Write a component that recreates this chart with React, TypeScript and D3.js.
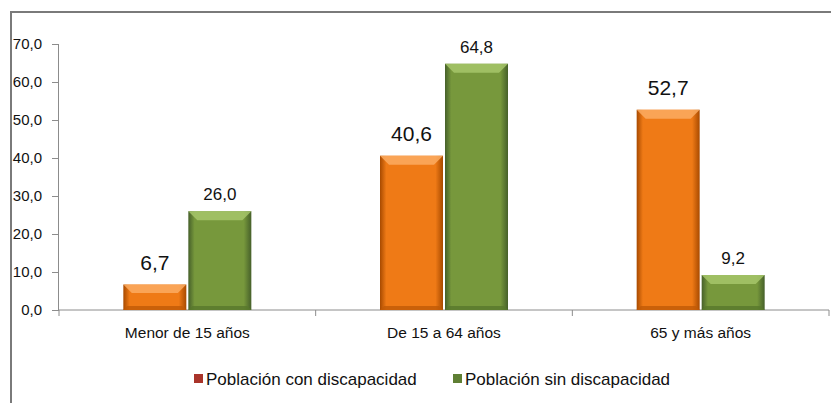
import React, { useRef, useEffect } from 'react';
import * as d3 from 'd3';

const categories = ['Menor de 15 años', 'De 15 a 64 años', '65 y más años'];
const seriesNames = ['Población con discapacidad', 'Población sin discapacidad'];
const conDiscapacidad = [6.7, 40.6, 52.7];
const sinDiscapacidad = [26.0, 64.8, 9.2];
const yTicks = [0, 10, 20, 30, 40, 50, 60, 70];

const FONT = '"Liberation Sans", Arial, sans-serif';

const palettes = [
  { edge: '#a84a00', main: '#ef7a16', light: '#fbab62', dark: '#c05a06', legend: '#a9342a' },
  { edge: '#46602a', main: '#77983c', light: '#a6c66a', dark: '#58782c', legend: '#5f7f34' },
];

const App: React.FC = () => {
  const svgRef = useRef<SVGSVGElement>(null);
  const width = 831;
  const height = 403;

  useEffect(() => {
    if (!svgRef.current) return;
    const svg = d3.select(svgRef.current);
    svg.selectAll('*').remove();

    const left = 59;
    const right = 829;
    const top = 44;
    const bottom = 310;

    const x = d3.scaleBand<string>().domain(categories).range([left, right]).paddingInner(0).paddingOuter(0);
    const y = d3.scaleLinear().domain([0, 70]).range([bottom, top]);
    const fmt = (v: number) => d3.format('.1f')(v).replace('.', ',');

    // gradients
    const defs = svg.append('defs');
    palettes.forEach((p, i) => {
      const g = defs.append('linearGradient').attr('id', `grad${i}`).attr('x1', 0).attr('x2', 1).attr('y1', 0).attr('y2', 0);
      g.append('stop').attr('offset', '0%').attr('stop-color', p.edge);
      g.append('stop').attr('offset', '10%').attr('stop-color', p.main);
      g.append('stop').attr('offset', '88%').attr('stop-color', p.main);
      g.append('stop').attr('offset', '100%').attr('stop-color', p.edge);
    });

    // frame
    svg.append('rect')
      .attr('x', 11).attr('y', 12).attr('width', 840).attr('height', 420)
      .attr('fill', 'none').attr('stroke', '#7a7a7a').attr('stroke-width', 2);

    // y axis
    const yAxis = svg.append('g').attr('transform', `translate(${left},0)`)
      .call(d3.axisLeft(y).tickValues(yTicks).tickSize(7).tickPadding(10).tickFormat(d => fmt(d as number)));
    yAxis.select('.domain').attr('stroke', '#8c8c8c').attr('d', `M-0.5,${top}V${bottom}`);
    yAxis.selectAll('.tick line').attr('stroke', '#8c8c8c');
    yAxis.selectAll('.tick text').attr('font-family', FONT).attr('font-size', 15).attr('fill', '#111');

    // x axis
    const xAxis = svg.append('g').attr('transform', `translate(0,${bottom})`);
    xAxis.append('line').attr('x1', left).attr('x2', right).attr('y1', 0).attr('y2', 0).attr('stroke', '#8c8c8c');
    const bounds = categories.map(c => x(c) as number).concat([right]);
    xAxis.selectAll('line.tk').data(bounds).enter().append('line').attr('class', 'tk')
      .attr('x1', d => d).attr('x2', d => d).attr('y1', 0).attr('y2', 6).attr('stroke', '#8c8c8c');
    xAxis.selectAll('text').data(categories).enter().append('text')
      .attr('x', d => (x(d) as number) + x.bandwidth() / 2)
      .attr('y', 28)
      .attr('text-anchor', 'middle')
      .attr('font-family', FONT).attr('font-size', 15.5).attr('fill', '#111')
      .text(d => d);

    const barW = 63;
    const gap = 2;
    const series = [conDiscapacidad, sinDiscapacidad];

    series.forEach((vals, si) => {
      const p = palettes[si];
      const g = svg.append('g');
      vals.forEach((v, ci) => {
        const cx = (x(categories[ci]) as number) + x.bandwidth() / 2;
        const bx = si === 0 ? cx - gap / 2 - barW : cx + gap / 2;
        const by = y(v);
        const bh = bottom - by;
        const bev = Math.min(9, bh / 3);
        g.append('rect').attr('x', bx).attr('y', by).attr('width', barW).attr('height', bh).attr('fill', `url(#grad${si})`);
        // top bevel
        g.append('polygon')
          .attr('points', `${bx},${by} ${bx + barW},${by} ${bx + barW - bev},${by + bev} ${bx + bev},${by + bev}`)
          .attr('fill', p.light).attr('opacity', 0.85);
        // bottom bevel
        g.append('polygon')
          .attr('points', `${bx},${bottom} ${bx + barW},${bottom} ${bx + barW - 4},${bottom - 4} ${bx + 4},${bottom - 4}`)
          .attr('fill', p.dark).attr('opacity', 0.8);
        g.append('text')
          .attr('x', bx + barW / 2)
          .attr('y', si === 0 ? by - 15 : by - 11)
          .attr('text-anchor', 'middle')
          .attr('font-family', FONT)
          .attr('font-size', si === 0 ? 21 : 17)
          .attr('fill', '#111')
          .text(fmt(v));
      });
    });

    // legend
    const legendX = [194, 453];
    seriesNames.forEach((name, i) => {
      const lg = svg.append('g').attr('transform', `translate(${legendX[i]},379)`);
      lg.append('rect').attr('x', 0).attr('y', -5).attr('width', 9).attr('height', 9).attr('fill', palettes[i].legend);
      lg.append('text').attr('x', 12).attr('y', 5.5).attr('font-family', FONT).attr('font-size', 17).attr('fill', '#111').text(name);
    });
  }, []);

  return (
    <svg ref={svgRef} width={width} height={height}
      style={{ position: 'absolute', left: 0, top: 0, background: '#fff' }} />
  );
};

export default App;
